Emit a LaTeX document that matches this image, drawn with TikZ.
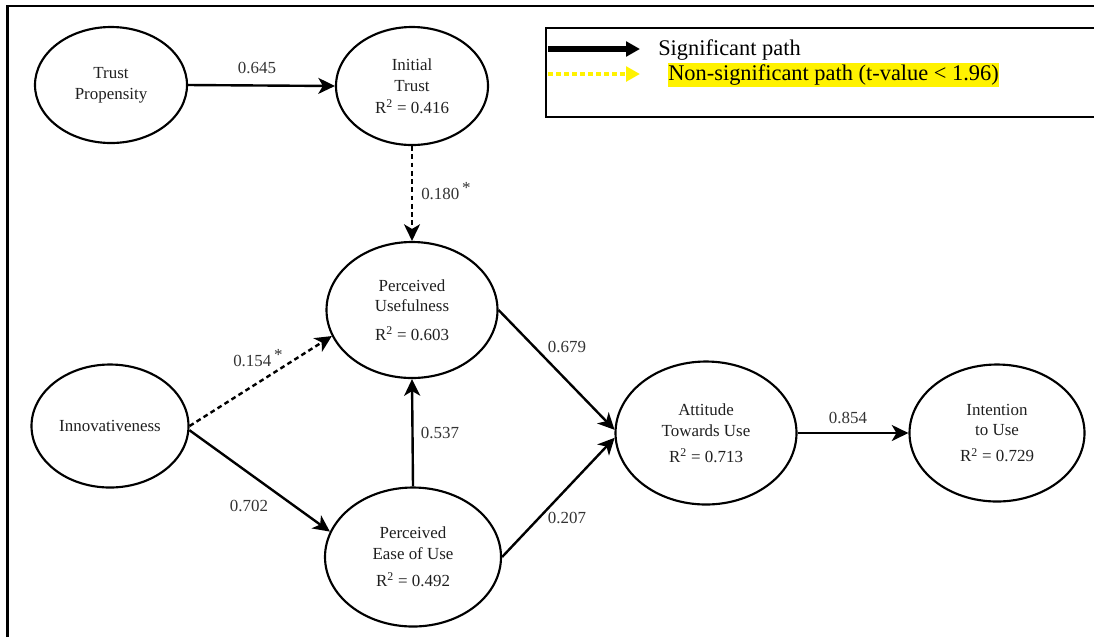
\documentclass[tikz,border=0pt]{standalone}
\usepackage{fontspec}
\setmainfont{Liberation Serif}
\usetikzlibrary{arrows.meta,shapes.geometric}
\newcommand{\sigstar}{\,\raisebox{4.5pt}{*}}
\begin{document}
\begin{tikzpicture}[x=0.75pt,y=-0.75pt,
  lat/.style={ellipse,draw,line width=1.6pt,align=center,inner sep=0pt,
    font=\fontsize{12.7}{15.5}\selectfont,text=black!88},
  sig/.style={line width=1.8pt,-{Stealth[length=12.5pt,width=12pt,inset=3.5pt]}},
  ns/.style={sig,dash pattern=on 3.6pt off 2.6pt},
  lab/.style={font=\fontsize{12.7}{15}\selectfont,text=black!80,inner sep=0pt},
  legtext/.style={font=\fontsize{16.8}{19}\selectfont,inner sep=0pt,anchor=west}
]
\useasboundingbox (0,0) rectangle (1094,637);
% outer frame (top and left edges)
\draw[line width=1.6pt] (7.5,637) -- (7.5,6) -- (1094,6);
% legend box
\draw[line width=1.5pt] (1094,28) -- (546,28) -- (546,117) -- (1094,117);
\coordinate (l1a) at (548,49);
\coordinate (l1b) at (640,49);
\coordinate (l2a) at (548,74);
\coordinate (l2b) at (640,74);
\draw[line width=3.8pt,-{Triangle[length=10.5pt,width=11pt]}] (l1a) -- (l1b);
\draw[yellow,line width=3.2pt,dash pattern=on 3.6pt off 2.4pt,-{Triangle[length=10.5pt,width=11pt]}] (l2a) -- (l2b);
\node[legtext] (leg1) at (658,50) {Significant path};
\node[legtext,fill=yellow,inner ysep=1.2pt] (leg2) at (668,75) {Non-significant path (t-value < 1.96)};

% latent variables
\node[lat,minimum width=114pt,minimum height=87pt] (tp) at (111,85) {Trust\\Propensity};
\node[lat,minimum width=114pt,minimum height=88.5pt] (it) at (412,86) {Initial\\Trust\\[1pt]R\textsuperscript{2} = 0.416};
\node[lat,minimum width=128.25pt,minimum height=102pt] (pu) at (412,310) {Perceived\\Usefulness\\[6pt]R\textsuperscript{2} = 0.603};
\node[lat,minimum width=117.75pt,minimum height=92.25pt] (inno) at (110,426) {Innovativeness};
\node[lat,minimum width=132pt,minimum height=104.25pt] (peou) at (413,557) {Perceived\\Ease of Use\\[5pt]R\textsuperscript{2} = 0.492};
\node[lat,minimum width=135.75pt,minimum height=107.25pt] (att) at (706,433) {Attitude\\Towards Use\\[4pt]R\textsuperscript{2} = 0.713};
\node[lat,minimum width=131.25pt,minimum height=102.75pt] (int) at (997,433) {Intention\\to Use\\[4pt]R\textsuperscript{2} = 0.729};

% paths
\draw[sig] (tp.east) -- (it.west);
\draw[ns] (it.south) -- (pu.north);
\draw[ns] (inno.east) -- (pu.198);
\draw[sig] (inno.-3) -- (peou.163);
\draw[sig] (peou.north) -- (pu.south);
\draw[sig] (pu.east) -- (att.178);
\draw[sig] (peou.east) -- (att.183);
\draw[sig] (att.east) -- (int.west);

% path labels
\node[lab] (v645) at (257,68) {0.645};
\node[lab,anchor=west] (v180) at (421,191) {0.180\sigstar};
\node[lab,anchor=west] (v154) at (233,358) {0.154\sigstar};
\node[lab] (v702) at (249,506) {0.702};
\node[lab] (v537) at (440,433) {0.537};
\node[lab] (v679) at (567,347) {0.679};
\node[lab] (v207) at (567,518) {0.207};
\node[lab] (v854) at (848,418) {0.854};
\end{tikzpicture}
\end{document}
